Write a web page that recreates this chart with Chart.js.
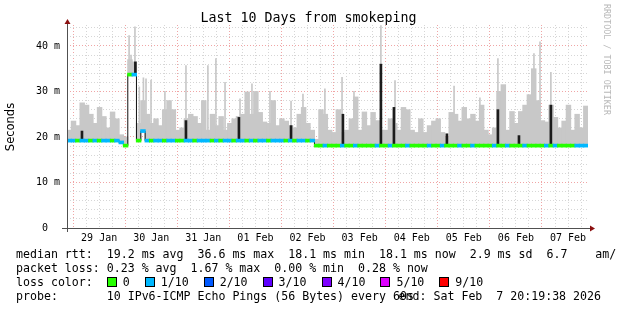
<!DOCTYPE html>
<html>
<head>
<meta charset="utf-8">
<title>Last 10 Days from smokeping</title>
<script src="https://cdn.jsdelivr.net/npm/chart.js@4.4.1/dist/chart.umd.min.js"></script>
<style>
    html, body { margin: 0; padding: 0; background: #fff; }
    #wrap { position: relative; width: 617px; height: 310px; overflow: hidden; }
    #grafico { position: absolute; left: 0; top: 0; }
    .linha { position: absolute; left: 16px; font-family: 'DejaVu Sans Mono', monospace; font-size: 11.6px; line-height: 14px; white-space: pre; color: #000; }
    .caixa { display: inline-block; width: 8px; height: 8px; border: 1px solid #000; vertical-align: -1px; margin-right: 6px; }
    .item { margin-right: 15px; }
</style>
</head>
<body>
<div id="wrap">
    <canvas id="grafico" width="617" height="310"></canvas>
    <div class="linha" style="top:247px">median rtt:  19.2 ms avg  36.6 ms max  18.1 ms min  18.1 ms now  2.9 ms sd  6.7    am/s</div>
    <div class="linha" style="top:261px">packet loss: 0.23 % avg  1.67 % max  0.00 % min  0.28 % now</div>
    <div class="linha" id="legenda" style="top:275px">loss color:  </div>
    <div class="linha" style="top:289px">probe:       10 IPv6-ICMP Echo Pings (56 Bytes) every 60s</div>
    <div class="linha" style="top:289px; left:auto; right:16px">end: Sat Feb  7 20:19:38 2026</div>
</div>
<script>
// Eixo X em horas desde o início do gráfico (10 dias = 240 h), blocos de 2 h
const binHours = 2;
const totalHours = 240;
const firstMidnight = 2.8; // horas até a primeira meia-noite (29 Jan)
const dayLabels = ['29 Jan', '30 Jan', '31 Jan', '01 Feb', '02 Feb', '03 Feb', '04 Feb', '05 Feb', '06 Feb', '07 Feb'];

// Mediana (ms) por bloco de 2 h - 12 blocos por dia
const median = [
    19.2, 19.2, 19.2, 19.2, 19.2, 19.2, 19.2, 19.2, 19.2, 19.2, 19.2, 19.2,
    18.8, 18.1, 33.7, 33.7, 19.2, 21.3, 19.2, 19.2, 19.2, 19.2, 19.2, 19.2,
    19.2, 19.2, 19.2, 19.2, 19.2, 19.2, 19.2, 19.2, 19.2, 19.2, 19.2, 19.2,
    19.2, 19.2, 19.2, 19.2, 19.2, 19.2, 19.2, 19.2, 19.2, 19.2, 19.2, 19.2,
    19.2, 19.2, 19.2, 19.2, 19.2, 19.2, 19.2, 19.2, 19.2, 18.1, 18.1, 18.1,
    18.1, 18.1, 18.1, 18.1, 18.1, 18.1, 18.1, 18.1, 18.1, 18.1, 18.1, 18.1,
    18.1, 18.1, 18.1, 18.1, 18.1, 18.1, 18.1, 18.1, 18.1, 18.1, 18.1, 18.1,
    18.1, 18.1, 18.1, 18.1, 18.1, 18.1, 18.1, 18.1, 18.1, 18.1, 18.1, 18.1,
    18.1, 18.1, 18.1, 18.1, 18.1, 18.1, 18.1, 18.1, 18.1, 18.1, 18.1, 18.1,
    18.1, 18.1, 18.1, 18.1, 18.1, 18.1, 18.1, 18.1, 18.1, 18.1, 18.1, 18.1
];

// Topo da "fumaça" (ms) por bloco de 2 h
const smokeTop = [
    21.5, 23.5, 22.5, 27.5, 27, 25, 23, 26.5, 24.5, 22, 25.5, 24,
    20.5, 20, 37, 36.5, 23, 28, 25, 23, 24, 22.5, 26, 28,
    26, 21.5, 22, 24, 25, 24.5, 23, 28, 21.5, 25, 22.5, 24.5,
    21.5, 23, 24, 24.5, 25, 29.9, 25, 30, 25.4, 23.3, 23, 28,
    22.5, 24, 23.5, 22.5, 22, 25, 26.5, 23, 21.5, 19.5, 26, 25,
    21.5, 21, 26, 21, 21.5, 24, 28.8, 21.5, 25.5, 22.5, 25.4, 23.6,
    21.5, 21.5, 24, 23, 21.5, 26.5, 26, 21.5, 21, 24, 21, 22.5,
    23.5, 24, 21, 20, 25.4, 25, 23.5, 26.5, 24, 25, 23.5, 27,
    21.5, 20.5, 22, 30, 31.5, 21.5, 25.6, 23, 25.6, 27, 29.3, 35,
    28, 23.6, 23.3, 27, 24.3, 22, 23.5, 27, 21.5, 25, 22, 26.8
];

// Perda por bloco: 0 = sem perda, 1 = 1/10
const lossIndex = [
    1, 1, 0, 1, 1, 0, 1, 0, 1, 1, 0, 1,
    1, 0, 0, 1, 0, 1, 1, 0, 1, 1, 0, 1,
    1, 0, 0, 1, 1, 0, 1, 1, 1, 0, 1, 0,
    1, 1, 0, 1, 1, 0, 1, 0, 1, 1, 0, 1,
    1, 1, 0, 1, 0, 1, 1, 0, 1, 0, 0, 1,
    0, 0, 0, 1, 0, 0, 1, 0, 0, 0, 0, 1,
    0, 0, 1, 0, 0, 0, 1, 0, 0, 0, 0, 1,
    0, 0, 1, 0, 0, 0, 1, 0, 0, 1, 0, 0,
    0, 0, 1, 0, 0, 1, 0, 0, 0, 1, 0, 0,
    0, 0, 1, 0, 1, 0, 0, 0, 0, 1, 1, 1
];

// Picos finos de fumaça (hora, ms)
const spikeHours = [28.6, 29.5, 31.3, 33.3, 35.2, 36.4, 38.7, 45.1, 54.8, 64.9, 68.6, 72.8, 79.7, 85.2, 93.5, 103.2, 108.7, 118.8, 126.7, 132.2, 144.6, 151.1, 178.3, 190.2, 198.5, 215.1, 217.9, 222.9];
const spikeValues = [42.3, 38, 44.2, 31, 33, 32.8, 32.5, 30, 35.7, 35.7, 37.2, 32, 28.4, 31.7, 30, 27.9, 29.4, 30.6, 33.1, 30, 44.5, 32.4, 31.2, 28.6, 37.2, 38.3, 40.9, 34.2];

// Fumaça escura (hora, ms)
const darkHours = [6.9, 31.5, 54.8, 79.2, 103.2, 127.1, 144.6, 150.6, 175, 198.5, 208.2, 222.9];
const darkValues = [21.3, 36.5, 23.6, 24.3, 22.5, 25, 36, 26.5, 20.7, 26, 20.3, 27];

// Cores da legenda de perda
const lossLabels = ['0', '1/10', '2/10', '3/10', '4/10', '5/10', '9/10'];
const lossColors = ['#26ff00', '#00b8ff', '#0059ff', '#5e00ff', '#7e00ff', '#dd00ff', '#ff0000'];

const corGrade = 'rgb(214, 214, 214)';
const corGradeMaior = 'rgb(240, 165, 165)';

// Mediana no bloco que contém a hora h
function medianAt(h) {
    return median[Math.min(median.length - 1, Math.floor(h / binHours))];
}

// Monta a legenda de cores
const legenda = document.getElementById('legenda');
lossLabels.forEach(function (lbl, i) {
    const span = document.createElement('span');
    span.className = 'item';
    span.innerHTML = '<span class="caixa" style="background:' + lossColors[i] + '"></span>' + lbl;
    legenda.appendChild(span);
});

// Textos e eixos desenhados à moda do rrdtool
const rrdDecor = {
    id: 'rrdDecor',
    afterDraw(chart) {
        const ctx = chart.ctx;
        const a = chart.chartArea;
        ctx.save();
        ctx.fillStyle = '#000';
        ctx.font = '13.3px "DejaVu Sans Mono"';
        ctx.textAlign = 'center';
        ctx.textBaseline = 'middle';
        ctx.fillText('Last 10 Days from smokeping', 308.5, 19);

        ctx.save();
        ctx.translate(11, 127);
        ctx.rotate(-Math.PI / 2);
        ctx.font = '11.5px "DejaVu Sans"';
        ctx.fillText('Seconds', 0, 0);
        ctx.restore();

        ctx.save();
        ctx.translate(606, 4);
        ctx.rotate(Math.PI / 2);
        ctx.textAlign = 'left';
        ctx.fillStyle = '#b8b8b8';
        ctx.font = '8.4px "DejaVu Sans Mono"';
        ctx.fillText('RRDTOOL / TOBI OETIKER', 0, 0);
        ctx.restore();

        // eixos
        ctx.strokeStyle = '#505050';
        ctx.lineWidth = 1;
        ctx.beginPath();
        ctx.moveTo(a.left + 0.5, a.bottom + 4);
        ctx.lineTo(a.left + 0.5, a.top - 2);
        ctx.moveTo(a.left - 5, a.bottom + 0.5);
        ctx.lineTo(a.right + 2, a.bottom + 0.5);
        ctx.stroke();
        ctx.fillStyle = '#8b1010';
        ctx.beginPath();
        ctx.moveTo(a.left - 2.5, a.top - 1);
        ctx.lineTo(a.left + 3.5, a.top - 1);
        ctx.lineTo(a.left + 0.5, a.top - 6);
        ctx.closePath();
        ctx.fill();
        ctx.beginPath();
        ctx.moveTo(a.right + 2, a.bottom - 2.5);
        ctx.lineTo(a.right + 2, a.bottom + 3.5);
        ctx.lineTo(a.right + 7, a.bottom + 0.5);
        ctx.closePath();
        ctx.fill();
        ctx.restore();
    }
};

const ctx = document.getElementById('grafico').getContext('2d');
new Chart(ctx, {
    type: 'bar',
    data: {
        datasets: [
            {
                label: 'loss',
                data: median.map((m, i) => ({ x: i * binHours + binHours / 2, y: [m - 0.33, m + 0.33] })),
                backgroundColor: lossIndex.map(k => lossColors[k]),
                barThickness: 4.8,
                grouped: false,
                order: 1
            },
            {
                type: 'line',
                label: 'median',
                data: median.map((m, i) => ({ x: i * binHours + binHours / 2, y: m })),
                borderColor: '#111',
                borderWidth: 1,
                pointRadius: 0,
                stepped: 'middle',
                order: 2
            },
            {
                label: 'dark',
                data: darkHours.map((h, i) => ({ x: h, y: [medianAt(h), darkValues[i]] })),
                backgroundColor: '#1c1c1c',
                barThickness: 2,
                grouped: false,
                order: 3
            },
            {
                label: 'spikes',
                data: spikeHours.map((h, i) => ({ x: h, y: [medianAt(h), spikeValues[i]] })),
                backgroundColor: '#c8c8c8',
                barThickness: 1,
                grouped: false,
                order: 4
            },
            {
                label: 'smoke',
                data: smokeTop.map((t, i) => ({ x: i * binHours + binHours / 2, y: [median[i], t] })),
                backgroundColor: '#c8c8c8',
                barThickness: 4.8,
                grouped: false,
                order: 5
            }
        ]
    },
    options: {
        responsive: false,
        animation: false,
        devicePixelRatio: 1,
        layout: { padding: { left: 0, right: 29, top: 25, bottom: 0 } },
        plugins: { legend: { display: false }, tooltip: { enabled: false }, title: { display: false } },
        scales: {
            x: {
                type: 'linear',
                min: 0,
                max: totalHours,
                offset: false,
                afterBuildTicks(scale) {
                    const t = [];
                    for (let h = firstMidnight; h < totalHours; h += 6) t.push({ value: h });
                    scale.ticks = t;
                },
                afterFit(scale) { scale.height = 82; },
                grid: {
                    offset: false,
                    drawTicks: false,
                    color: c => (Math.round((c.tick.value - firstMidnight) / 6) % 4 === 0 ? corGradeMaior : corGrade)
                },
                border: { display: false, dash: [1, 2] },
                ticks: {
                    autoSkip: false,
                    maxRotation: 0,
                    minRotation: 0,
                    padding: 4,
                    color: '#000',
                    font: { family: 'DejaVu Sans Mono', size: 10 },
                    callback: function (v) {
                        const k = Math.round((v - firstMidnight) / 6);
                        return k % 4 === 2 ? dayLabels[(k - 2) / 4] : '';
                    }
                }
            },
            y: {
                min: 0,
                max: 44.6,
                afterBuildTicks(scale) {
                    const t = [];
                    for (let v = 0; v <= 44; v += 2) t.push({ value: v });
                    scale.ticks = t;
                },
                afterFit(scale) { scale.width = 67; },
                grid: {
                    drawTicks: false,
                    color: c => (c.tick.value % 10 === 0 ? corGradeMaior : corGrade)
                },
                border: { display: false, dash: [1, 2] },
                ticks: {
                    autoSkip: false,
                    padding: 7,
                    color: '#000',
                    font: { family: 'DejaVu Sans Mono', size: 10 },
                    callback: v => (v % 10 === 0 ? (v === 0 ? '0  ' : v + ' m') : '')
                }
            }
        }
    },
    plugins: [rrdDecor]
});
</script>
</body>
</html>
